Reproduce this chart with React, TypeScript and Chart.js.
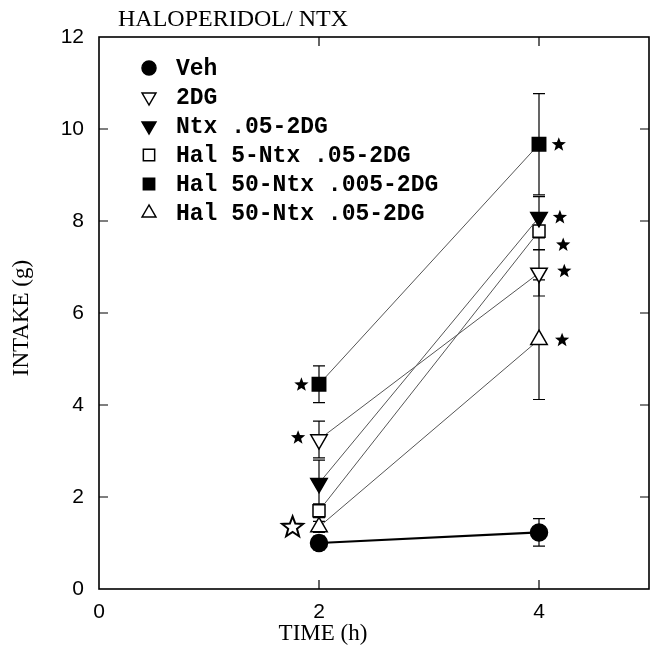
import React, { useEffect, useRef } from "react";
import { Chart, registerables } from "chart.js";

Chart.register(...registerables);

// ---- data ----
const timeHours = [2, 4];
const seriesNames = [
  "Veh",
  "2DG",
  "Ntx .05-2DG",
  "Hal 5-Ntx .05-2DG",
  "Hal 50-Ntx .005-2DG",
  "Hal 50-Ntx .05-2DG",
];
const vehIntake = [1.0, 1.23];
const vehSem = [0.15, 0.3];
const dgIntake = [3.25, 6.87];
const dgSem = [0.4, 0.5];
const ntxIntake = [2.3, 8.08];
const ntxSem = [0.5, 0.45];
const hal5Intake = [1.7, 7.78];
const hal5Sem = [0.15, 0.4];
const hal50LowNtxIntake = [4.45, 9.67];
const hal50LowNtxSem = [0.4, 1.1];
const hal50Intake = [1.35, 5.42];
const hal50Sem = [0.12, 1.3];

// significance stars
const starX = [1.84, 1.81, 4.18, 4.19, 4.22, 4.23, 4.21];
const starY = [4.44, 3.29, 9.66, 8.08, 7.48, 6.91, 5.41];
const openStarX = [1.76];
const openStarY = [1.34];

const xTickValues = [0, 2, 4];
const yTickValues = [0, 2, 4, 6, 8, 10, 12];

const titleText = "HALOPERIDOL/ NTX";
const xTitleText = "TIME (h)";
const yTitleText = "INTAKE (g)";

// ---- styles ----
type Style = { shape: "circle" | "triDown" | "triUp" | "square"; filled: boolean; radius: number; line: string; lineWidth: number };
const styles: Style[] = [
  { shape: "circle", filled: true, radius: 8.5, line: "#000", lineWidth: 2.2 },
  { shape: "triDown", filled: false, radius: 9.5, line: "#555", lineWidth: 1 },
  { shape: "triDown", filled: true, radius: 9.5, line: "#555", lineWidth: 1 },
  { shape: "square", filled: false, radius: 8.5, line: "#555", lineWidth: 1 },
  { shape: "square", filled: true, radius: 9.5, line: "#555", lineWidth: 1 },
  { shape: "triUp", filled: false, radius: 9.5, line: "#555", lineWidth: 1 },
];

const means = [vehIntake, dgIntake, ntxIntake, hal5Intake, hal50LowNtxIntake, hal50Intake];
const sems = [vehSem, dgSem, ntxSem, hal5Sem, hal50LowNtxSem, hal50Sem];

function drawStar(ctx: CanvasRenderingContext2D, cx: number, cy: number, R: number, filled: boolean) {
  const r = R * 0.42;
  ctx.beginPath();
  for (let i = 0; i < 10; i++) {
    const a = -Math.PI / 2 + (i * Math.PI) / 5;
    const rad = i % 2 === 0 ? R : r;
    const x = cx + rad * Math.cos(a);
    const y = cy + rad * Math.sin(a);
    if (i === 0) ctx.moveTo(x, y);
    else ctx.lineTo(x, y);
  }
  ctx.closePath();
  if (filled) {
    ctx.fillStyle = "#000";
    ctx.fill();
  } else {
    ctx.lineWidth = 2;
    ctx.strokeStyle = "#000";
    ctx.stroke();
  }
}

function drawMarker(ctx: CanvasRenderingContext2D, st: Style, x: number, y: number, r: number) {
  ctx.beginPath();
  if (st.shape === "circle") {
    ctx.arc(x, y, r, 0, Math.PI * 2);
  } else if (st.shape === "square") {
    const s = r * Math.SQRT1_2;
    ctx.rect(x - s, y - s, 2 * s, 2 * s);
  } else {
    const dir = st.shape === "triUp" ? -1 : 1;
    const h = r * 0.866;
    ctx.moveTo(x, y + dir * r);
    ctx.lineTo(x - h, y - dir * r * 0.5);
    ctx.lineTo(x + h, y - dir * r * 0.5);
    ctx.closePath();
  }
  ctx.fillStyle = st.filled ? "#000" : "#fff";
  ctx.fill();
  ctx.lineWidth = 1.5;
  ctx.strokeStyle = "#000";
  ctx.stroke();
}

const decorPlugin = {
  id: "decor",
  beforeDatasetsDraw(chart: any) {
    const ctx = chart.ctx;
    const xs = chart.scales.x;
    const ys = chart.scales.y;
    ctx.save();
    ctx.strokeStyle = "#000";
    ctx.lineWidth = 1.2;
    sems.forEach((errs, si) => {
      errs.forEach((e, i) => {
        const px = xs.getPixelForValue(timeHours[i]);
        const top = ys.getPixelForValue(means[si][i] + e);
        const bot = ys.getPixelForValue(means[si][i] - e);
        ctx.beginPath();
        ctx.moveTo(px, top);
        ctx.lineTo(px, bot);
        ctx.moveTo(px - 6, top);
        ctx.lineTo(px + 6, top);
        ctx.moveTo(px - 6, bot);
        ctx.lineTo(px + 6, bot);
        ctx.stroke();
      });
    });
    ctx.restore();
  },
  afterDatasetsDraw(chart: any) {
    const ctx = chart.ctx;
    const xs = chart.scales.x;
    const ys = chart.scales.y;
    ctx.save();
    starX.forEach((sx, i) => {
      drawStar(ctx, xs.getPixelForValue(sx), ys.getPixelForValue(starY[i]), 7.5, true);
    });
    openStarX.forEach((sx, i) => {
      drawStar(ctx, xs.getPixelForValue(sx), ys.getPixelForValue(openStarY[i]), 11, false);
    });
    ctx.restore();
  },
  afterDraw(chart: any) {
    const ctx = chart.ctx;
    const { left, right, top, bottom } = chart.chartArea;
    const xs = chart.scales.x;
    const ys = chart.scales.y;
    ctx.save();
    // frame
    ctx.strokeStyle = "#000";
    ctx.lineWidth = 1.6;
    ctx.strokeRect(left, top, right - left, bottom - top);
    // inward ticks
    ctx.lineWidth = 1.2;
    ctx.beginPath();
    xTickValues.forEach((v) => {
      if (v <= xs.min || v >= xs.max) return;
      const px = xs.getPixelForValue(v);
      ctx.moveTo(px, bottom);
      ctx.lineTo(px, bottom - 9);
      ctx.moveTo(px, top);
      ctx.lineTo(px, top + 9);
    });
    yTickValues.forEach((v) => {
      if (v <= ys.min || v >= ys.max) return;
      const py = ys.getPixelForValue(v);
      ctx.moveTo(left, py);
      ctx.lineTo(left + 9, py);
      ctx.moveTo(right, py);
      ctx.lineTo(right - 9, py);
    });
    ctx.stroke();
    // title
    ctx.fillStyle = "#000";
    ctx.font = '24px "Liberation Serif"';
    ctx.textBaseline = "middle";
    ctx.textAlign = "left";
    ctx.fillText(titleText, 118, 20);
    // x axis title
    ctx.font = '23px "Liberation Serif"';
    ctx.textAlign = "center";
    ctx.fillText(xTitleText, 323, 634);
    // y axis title
    ctx.save();
    ctx.translate(22, 318);
    ctx.rotate(-Math.PI / 2);
    ctx.fillText(yTitleText, 0, 0);
    ctx.restore();
    // legend
    const rowY0 = 68;
    const rowStep = 29;
    ctx.textAlign = "left";
    ctx.font = 'bold 23px "Liberation Mono"';
    seriesNames.forEach((name, i) => {
      const y = rowY0 + rowStep * i;
      const st = styles[i];
      drawMarker(ctx, st, 149, y, st.shape === "circle" ? 7 : 8);
      ctx.fillStyle = "#000";
      ctx.fillText(name, 176, y + 1);
    });
    ctx.restore();
  },
};

export default function App() {
  const canvasRef = useRef<HTMLCanvasElement | null>(null);

  useEffect(() => {
    if (!canvasRef.current) return;
    const datasets = seriesNames.map((name, si) => {
      const st = styles[si];
      const pointStyle = st.shape === "circle" ? "circle" : st.shape === "square" ? "rect" : "triangle";
      return {
        label: name,
        data: timeHours.map((t, i) => ({ x: t, y: means[si][i] })),
        borderColor: st.line,
        borderWidth: st.lineWidth,
        pointStyle,
        pointRotation: st.shape === "triDown" ? 180 : 0,
        pointRadius: st.radius,
        pointBackgroundColor: st.filled ? "#000" : "#fff",
        pointBorderColor: "#000",
        pointBorderWidth: 1.5,
        showLine: true,
        fill: false,
        tension: 0,
      };
    });
    const chart = new Chart(canvasRef.current, {
      type: "line",
      data: { datasets },
      options: {
        responsive: false,
        animation: false,
        layout: { autoPadding: false, padding: { top: 37, right: 3, left: 0, bottom: 0 } },
        plugins: { legend: { display: false }, tooltip: { enabled: false }, title: { display: false } },
        scales: {
          x: {
            type: "linear",
            min: 0,
            max: 5,
            grid: { display: false, drawTicks: false },
            border: { display: false },
            afterFit: (s: any) => {
              s.height = 59;
              s.paddingLeft = 0;
              s.paddingRight = 0;
            },
            ticks: {
              stepSize: 2,
              includeBounds: false,
              color: "#000",
              padding: 11,
              font: { family: '"Liberation Sans"', size: 21 },
            },
            title: { display: false },
          },
          y: {
            type: "linear",
            min: 0,
            max: 12,
            grid: { display: false, drawTicks: false },
            border: { display: false },
            afterFit: (s: any) => {
              s.width = 99;
              s.paddingTop = 0;
              s.paddingBottom = 0;
            },
            ticks: {
              stepSize: 2,
              color: "#000",
              padding: 15,
              font: { family: '"Liberation Sans"', size: 21 },
            },
            title: { display: false },
          },
        },
      },
      plugins: [decorPlugin],
    } as any);
    return () => chart.destroy();
  }, []);

  return (
    <div style={{ position: "absolute", left: 0, top: 0, width: 652, height: 648, background: "#fff" }}>
      <canvas ref={canvasRef} width={652} height={648} style={{ display: "block" }} />
    </div>
  );
}
